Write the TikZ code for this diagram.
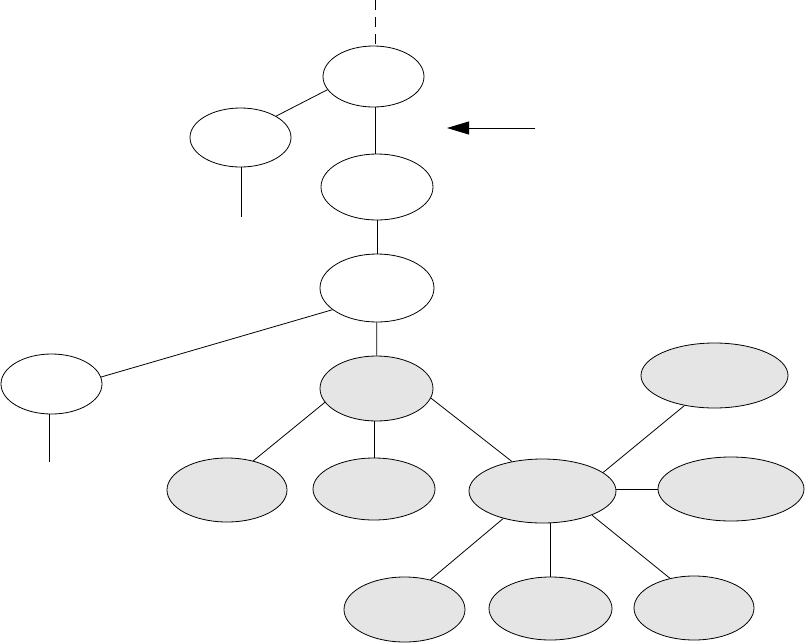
\documentclass[tikz,border=0pt]{standalone}
\usetikzlibrary{shapes.geometric,arrows.meta}
\begin{document}
\begin{tikzpicture}[x=1pt,y=-1pt,
  ell/.style={draw,ellipse,inner sep=0pt,line width=0.8pt},
  wh/.style={ell,fill=white},
  gr/.style={ell,fill=black!10},
  conn/.style={line width=0.8pt}]
\useasboundingbox (0,0) rectangle (806,643);
\node[wh,minimum width=101,minimum height=61] (e1) at (373.5,76.5) {};
\node[wh,minimum width=101,minimum height=59] (e2) at (240.5,137.5) {};
\node[wh,minimum width=112,minimum height=66] (e3) at (377,187) {};
\node[wh,minimum width=114,minimum height=68] (e4) at (377,288) {};
\node[wh,minimum width=101,minimum height=60] (e5) at (51.5,384) {};
\node[gr,minimum width=113,minimum height=65] (e6) at (376.5,388.5) {};
\node[gr,minimum width=120,minimum height=64] (e7) at (227,490) {};
\node[gr,minimum width=122,minimum height=62] (e8) at (374,489) {};
\node[gr,minimum width=147,minimum height=64] (e9) at (542.5,491) {};
\node[gr,minimum width=147,minimum height=65] (e10) at (714.5,375.5) {};
\node[gr,minimum width=146,minimum height=64] (e11) at (731,489) {};
\node[gr,minimum width=121,minimum height=65] (e12) at (404.5,609.5) {};
\node[gr,minimum width=123,minimum height=63] (e13) at (550.5,608.5) {};
\node[gr,minimum width=120,minimum height=64] (e14) at (694,608) {};
\coordinate (top) at (375,0);
\coordinate (e2end) at (241,217);
\coordinate (e5end) at (49,462);
\coordinate (arrS) at (535,128);
\coordinate (arrE) at (447,128);
\draw[conn,dash pattern=on 10pt off 7pt] (top) -- (e1.north -| top);
\draw[conn] (e1.196) -- (e2.31);
\draw[conn] (e1.south -| top) -- (e3.north -| top);
\draw[conn] (e2.south -| e2end) -- (e2end);
\draw[conn,-{Triangle[length=22pt,width=13pt]}] (arrS) -- (arrE);
\draw[conn] (e3) -- (e4);
\draw[conn] (e4.206) -- (e5.8);
\draw[conn] (e5.south -| e5end) -- (e5end);
\draw[conn] (e4) -- (e6);
\draw[conn] (e6.195) -- (e7.48);
\draw[conn] (e6.south -| e8) -- (e8);
\draw[conn] (e6.350) -- (e9.136);
\draw[conn] (e9.17) -- (e10.225);
\draw[conn] (e11.west) -- (e11.west -| e9.east);
\draw[conn] (e9.215) -- (e12.49);
\draw[conn] (e9.south -| e13) -- (e13);
\draw[conn] (e9.334) -- (e14.129);
\end{tikzpicture}
\end{document}
